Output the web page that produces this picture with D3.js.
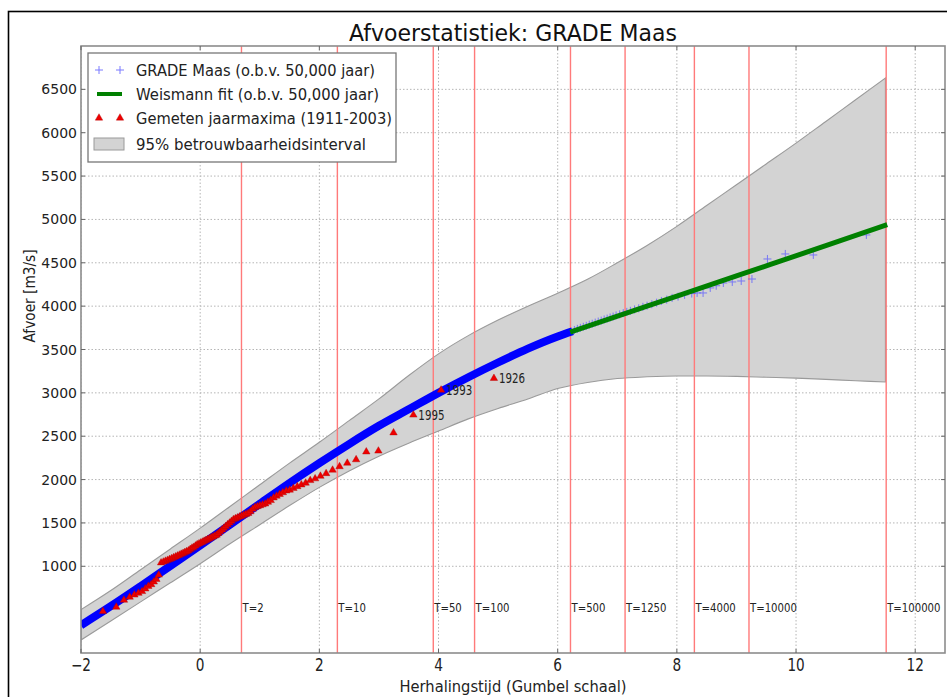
<!DOCTYPE html>
<html>
<head>
<meta charset="utf-8">
<script src="https://cdn.jsdelivr.net/npm/d3@7"></script>
<style>
  html, body { margin: 0; padding: 0; background: #fff; }
  svg { display: block; font-family: "DejaVu Sans", sans-serif; }
</style>
</head>
<body>
<svg id="chart" width="947" height="697"></svg>
<script>
// ---------------- data ----------------
const xTicks = [-2, 0, 2, 4, 6, 8, 10, 12];
const yTicks = [1000, 1500, 2000, 2500, 3000, 3500, 4000, 4500, 5000, 5500, 6000, 6500];
const returnPeriods = [2, 10, 50, 100, 500, 1250, 4000, 10000, 100000];

// GRADE Maas (dense part, looks like a thick line)
const gradeDenseX = [-2, -1.5, -1, -0.5, 0, 0.5, 1, 1.5, 2, 2.5, 3, 3.5, 4, 4.5, 5, 5.5, 6, 6.25];
const gradeDenseY = [320, 540, 770, 1005, 1240, 1480, 1720, 1960, 2190, 2410, 2620, 2810, 3000, 3180, 3350, 3510, 3650, 3710];
// GRADE Maas (sparse tail, individual markers)
const gradeTailX = [6.28, 6.33, 6.38, 6.43, 6.48, 6.53, 6.58, 6.63, 6.68, 6.73, 6.78, 6.83, 6.88, 6.93, 6.98, 7.04, 7.10, 7.16, 7.22, 7.29, 7.36, 7.43, 7.50, 7.58, 7.66, 7.74, 7.83, 7.92, 8.02, 8.13, 8.25, 8.34, 8.44, 8.56, 8.66, 8.78, 8.93, 9.08, 9.26, 9.52, 9.82, 10.29, 11.18];
const gradeTailY = [3725, 3738, 3750, 3762, 3773, 3786, 3797, 3810, 3822, 3833, 3846, 3856, 3869, 3880, 3893, 3905, 3920, 3934, 3946, 3962, 3975, 3992, 4005, 4022, 4040, 4060, 4075, 4095, 4110, 4130, 4145, 4152, 4152, 4210, 4235, 4267, 4279, 4290, 4313, 4544, 4602, 4590, 4821];

// Weismann fit
const weissmanX = [6.21, 7.5, 9, 10.5, 11.53];
const weissmanY = [3700, 4000, 4349, 4697, 4940];

// 95% confidence band
const bandX = [-2, -1.5, -1, -0.5, 0, 0.5, 1, 1.5, 2, 2.5, 3, 3.5, 4, 4.5, 5, 5.5, 6, 6.5, 7, 7.5, 8, 8.5, 9, 9.5, 10, 10.5, 11, 11.5];
const bandUpper = [500, 720, 960, 1200, 1440, 1690, 1940, 2190, 2430, 2680, 2930, 3200, 3450, 3660, 3840, 4000, 4150, 4310, 4500, 4700, 4920, 5160, 5400, 5640, 5880, 6130, 6380, 6630];
const bandLower = [150, 370, 590, 810, 1030, 1260, 1480, 1700, 1910, 2100, 2270, 2420, 2560, 2700, 2820, 2930, 3050, 3120, 3165, 3185, 3195, 3195, 3190, 3180, 3170, 3155, 3140, 3125];

// Measured annual maxima 1911-2003 (sorted)
const measuredX = [-1.632, -1.408, -1.279, -1.183, -1.104, -1.036, -0.976, -0.921, -0.870, -0.822,
  -0.778, -0.735, -0.695, -0.656, -0.618, -0.582, -0.546, -0.512, -0.478, -0.445,
  -0.412, -0.380, -0.349, -0.318, -0.287, -0.257, -0.227, -0.197, -0.167, -0.137,
  -0.108, -0.079, -0.050, -0.020, 0.009, 0.038, 0.067, 0.097, 0.126, 0.155,
  0.185, 0.215, 0.245, 0.275, 0.305, 0.336, 0.367, 0.398, 0.429, 0.461,
  0.493, 0.526, 0.559, 0.592, 0.626, 0.661, 0.696, 0.732, 0.768, 0.805,
  0.843, 0.882, 0.922, 0.963, 1.004, 1.047, 1.091, 1.137, 1.184, 1.232,
  1.282, 1.334, 1.388, 1.445, 1.503, 1.565, 1.630, 1.698, 1.770, 1.847,
  1.929, 2.018, 2.114, 2.222, 2.339, 2.469, 2.617, 2.788, 2.991, 3.245,
  3.578, 4.043, 4.93];
const measuredY = [480, 530, 610, 645, 670, 690, 710, 740, 770, 790,
  820, 850, 900, 1040, 1050, 1060, 1070, 1080, 1090, 1100,
  1110, 1120, 1130, 1140, 1150, 1160, 1170, 1180, 1195, 1210,
  1220, 1235, 1250, 1260, 1270, 1280, 1290, 1300, 1310, 1320,
  1330, 1340, 1350, 1360, 1380, 1400, 1420, 1440, 1460, 1480,
  1500, 1520, 1540, 1550, 1560, 1570, 1580, 1590, 1600, 1610,
  1630, 1660, 1680, 1690, 1700, 1710, 1720, 1740, 1760, 1790,
  1810, 1830, 1850, 1870, 1880, 1900, 1920, 1940, 1960, 1990,
  2010, 2040, 2070, 2110, 2150, 2190, 2230, 2320, 2330, 2540,
  2745, 3033, 3168];

const annotYears = ["1995", "1993", "1926"];
const annotX = [3.578, 4.043, 4.93];
const annotY = [2745, 3033, 3168];

const legendLabels = ["GRADE Maas (o.b.v. 50,000 jaar)", "Weismann fit (o.b.v. 50,000 jaar)",
  "Gemeten jaarmaxima (1911-2003)", "95% betrouwbaarheidsinterval"];

// ---------------- drawing ----------------
const svg = d3.select("#chart");
const L = 81, R = 945, T = 46, B = 653;
const x = d3.scaleLinear().domain([-2, 12.5]).range([L, R]);
const y = d3.scaleLinear().domain([0, 7000]).range([B, T]);

function squeeze(sel, f) {
  sel.each(function () {
    const w = this.getComputedTextLength();
    this.setAttribute("textLength", (w * f).toFixed(1));
    this.setAttribute("lengthAdjust", "spacingAndGlyphs");
  });
}
function fitWidth(sel, w) {
  sel.attr("textLength", w).attr("lengthAdjust", "spacingAndGlyphs");
}

// figure border
svg.append("rect").attr("x", 8.5).attr("y", 11.5).attr("width", 1000).attr("height", 1000)
  .attr("fill", "none").attr("stroke", "#000").attr("stroke-width", 1.6);

svg.append("defs").append("clipPath").attr("id", "clip")
  .append("rect").attr("x", L).attr("y", T).attr("width", R - L).attr("height", B - T);

const plot = svg.append("g").attr("clip-path", "url(#clip)");

// grid
plot.selectAll(".gx").data(xTicks).join("line")
  .attr("x1", d => x(d)).attr("x2", d => x(d)).attr("y1", T).attr("y2", B)
  .attr("stroke", "#b5b5b5").attr("stroke-width", 1).attr("stroke-dasharray", "1.5,2");
plot.selectAll(".gy").data(yTicks).join("line")
  .attr("x1", L).attr("x2", R).attr("y1", d => y(d)).attr("y2", d => y(d))
  .attr("stroke", "#b5b5b5").attr("stroke-width", 1).attr("stroke-dasharray", "1.5,2");

// band
const bandData = bandX.map((v, i) => ({ x: v, lo: bandLower[i], hi: bandUpper[i] }));
const area = d3.area().x(d => x(d.x)).y0(d => y(d.lo)).y1(d => y(d.hi)).curve(d3.curveMonotoneX);
plot.append("path").datum(bandData).attr("d", area)
  .attr("fill", "#d3d3d3").attr("stroke", "#9a9a9a").attr("stroke-width", 1.1);

// return-period lines
plot.selectAll(".rp").data(returnPeriods).join("line")
  .attr("x1", d => x(Math.log(d))).attr("x2", d => x(Math.log(d)))
  .attr("y1", T).attr("y2", B)
  .attr("stroke", "#ff7a7a").attr("stroke-width", 1.4);

// GRADE dense line
const line = d3.line().x(d => x(d[0])).y(d => y(d[1])).curve(d3.curveMonotoneX);
plot.append("path").datum(gradeDenseX.map((v, i) => [v, gradeDenseY[i]])).attr("d", line)
  .attr("fill", "none").attr("stroke", "#0000ff").attr("stroke-width", 8);

// GRADE tail markers
const crossPath = "M-4,0H4M0,-4V4";
plot.selectAll(".gt").data(gradeTailX.map((v, i) => [v, gradeTailY[i]])).join("path")
  .attr("transform", d => `translate(${x(d[0])},${y(d[1])})`)
  .attr("d", crossPath).attr("stroke", "#5a5aff").attr("stroke-width", 1).attr("opacity", 0.75);

// Weismann fit
plot.append("path").datum(weissmanX.map((v, i) => [v, weissmanY[i]])).attr("d", line)
  .attr("fill", "none").attr("stroke", "#008000").attr("stroke-width", 5);

// measured
const tri = d3.symbol().type(d3.symbolTriangle).size(24);
plot.selectAll(".ms").data(measuredX.map((v, i) => [v, measuredY[i]])).join("path")
  .attr("transform", d => `translate(${x(d[0])},${y(d[1])})`)
  .attr("d", tri).attr("fill", "#ee0000").attr("stroke", "#b00000").attr("stroke-width", 0.4);

// annotations
svg.selectAll(".an").data(annotYears).join("text")
  .attr("x", (d, i) => x(annotX[i]) + 5).attr("y", (d, i) => y(annotY[i]) + 5)
  .attr("font-size", 13.5).attr("fill", "#222").text(d => d)
  .call(squeeze, 0.76);

// T labels
svg.selectAll(".tl").data(returnPeriods).join("text")
  .attr("x", d => x(Math.log(d)) + 1).attr("y", 612)
  .attr("font-size", 11.5).attr("fill", "#222").text(d => "T=" + d)
  .call(squeeze, 0.88);

// axes frame
svg.append("rect").attr("x", L).attr("y", T).attr("width", R - L).attr("height", B - T)
  .attr("fill", "none").attr("stroke", "#8c8c8c").attr("stroke-width", 1.6);

// ticks (inside, all sides)
const tk = svg.append("g").attr("stroke", "#666").attr("stroke-width", 1);
xTicks.forEach(v => {
  tk.append("line").attr("x1", x(v)).attr("x2", x(v)).attr("y1", B).attr("y2", B - 4);
  tk.append("line").attr("x1", x(v)).attr("x2", x(v)).attr("y1", T).attr("y2", T + 4);
});
yTicks.forEach(v => {
  tk.append("line").attr("x1", L).attr("x2", L + 4).attr("y1", y(v)).attr("y2", y(v));
  tk.append("line").attr("x1", R).attr("x2", R - 4).attr("y1", y(v)).attr("y2", y(v));
});

// tick labels
svg.selectAll(".yl").data(yTicks).join("text")
  .attr("x", L - 4).attr("y", d => y(d) + 5).attr("text-anchor", "end")
  .attr("font-size", 14).attr("fill", "#222").text(d => d);
svg.selectAll(".xl").data(xTicks).join("text")
  .attr("x", d => x(d)).attr("y", 671).attr("text-anchor", "middle")
  .attr("font-size", 17).attr("fill", "#222").text(d => d < 0 ? "\u2212" + Math.abs(d) : d)
  .call(squeeze, 0.8);

// axis labels & title
svg.append("text").attr("x", (L + R) / 2).attr("y", 692).attr("text-anchor", "middle")
  .attr("font-size", 16).attr("fill", "#222").text("Herhalingstijd (Gumbel schaal)")
  .call(fitWidth, 227);
svg.append("text").attr("transform", "translate(35,296) rotate(-90)").attr("text-anchor", "middle")
  .attr("font-size", 15).attr("fill", "#222").text("Afvoer [m3/s]")
  .call(fitWidth, 93);
svg.append("text").attr("x", (L + R) / 2).attr("y", 41).attr("text-anchor", "middle")
  .attr("font-size", 23).attr("fill", "#111").text("Afvoerstatistiek: GRADE Maas")
  .call(fitWidth, 328);

// legend
const lg = svg.append("g");
lg.append("rect").attr("x", 88).attr("y", 53).attr("width", 308).attr("height", 109)
  .attr("fill", "#fff").attr("stroke", "#777").attr("stroke-width", 1.3);
const rowY = [70, 94, 118, 144];
[99, 120].forEach(px => {
  lg.append("path").attr("transform", `translate(${px},${rowY[0]})`).attr("d", crossPath)
    .attr("stroke", "#7a7aff").attr("stroke-width", 1);
  lg.append("path").attr("transform", `translate(${px},${rowY[2]})`).attr("d", tri)
    .attr("fill", "#ee0000").attr("stroke", "#b00000").attr("stroke-width", 0.4);
});
lg.append("line").attr("x1", 97).attr("x2", 122).attr("y1", rowY[1]).attr("y2", rowY[1])
  .attr("stroke", "#008000").attr("stroke-width", 4);
lg.append("rect").attr("x", 94).attr("y", rowY[3] - 6).attr("width", 30).attr("height", 12)
  .attr("fill", "#d3d3d3").attr("stroke", "#9a9a9a").attr("stroke-width", 1);
const lgW = [239, 243, 256, 230];
lg.selectAll(".lt").data(legendLabels).join("text")
  .attr("x", 136).attr("y", (d, i) => rowY[i] + 5.5)
  .attr("font-size", 15.5).attr("fill", "#222").text(d => d)
  .each(function (d, i) { d3.select(this).call(fitWidth, lgW[i]); });
</script>
</body>
</html>
